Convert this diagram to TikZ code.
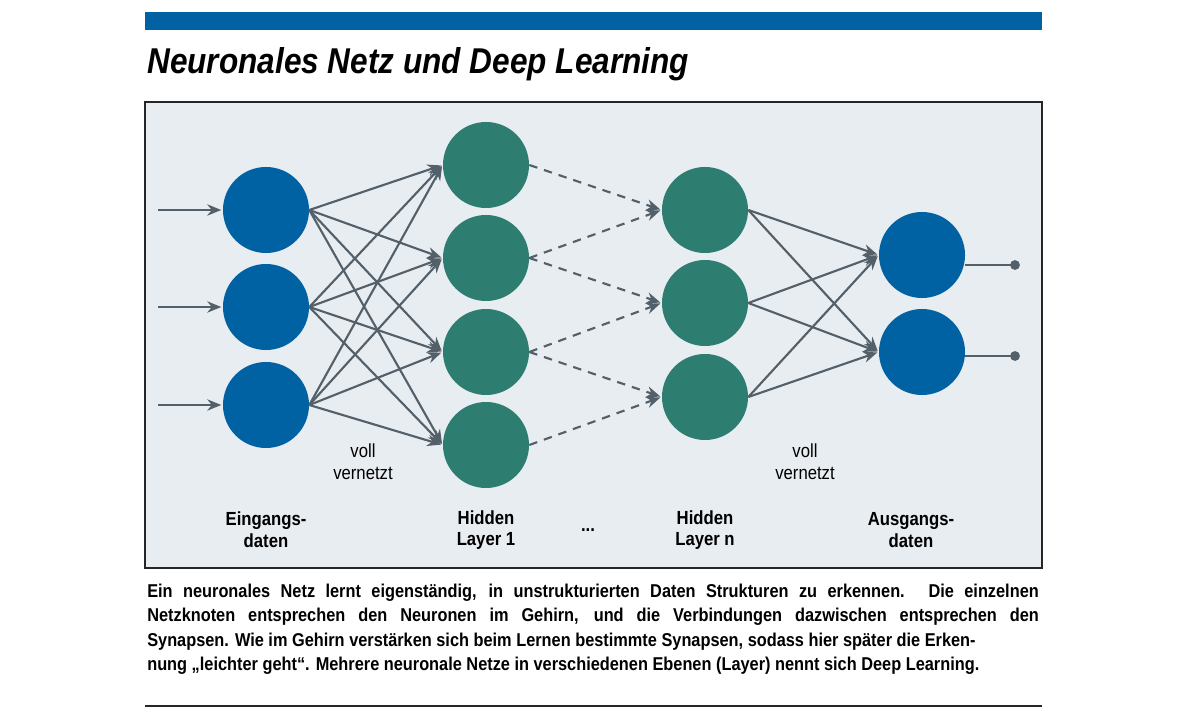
\documentclass[tikz,border=0pt]{standalone}
\usepackage{fontspec}
\setmainfont{Liberation Sans}[FakeStretch=0.88]
\usetikzlibrary{arrows.meta}
\definecolor{nblue}{HTML}{0062A3}
\definecolor{ngreen}{HTML}{2E7D71}
\definecolor{ngray}{HTML}{535F69}
\definecolor{nback}{HTML}{E8EDF1}
\newcommand{\bodyline}[1]{\makebox[634pt][s]{#1}}
\begin{document}
\begin{tikzpicture}[x=0.025cm,y=-0.025cm,
    neuron/.style={circle, minimum size=2.15cm, inner sep=0pt},
    inneuron/.style={neuron, fill=nblue},
    hidneuron/.style={neuron, fill=ngreen},
    link/.style={-{Stealth[length=10pt,width=8pt]}, ngray, line width=1.5pt, shorten >=1pt},
    dashlink/.style={link, dashed, dash pattern=on 6pt off 5pt},
    caption/.style={font=\bfseries\fontsize{13.5}{15.5}\selectfont, align=center, text=black},
    note/.style={font=\fontsize{13.5}{15.5}\selectfont, align=center, text=black}]
\useasboundingbox (0,0) rectangle (1200,720);
\fill[white] (0,0) rectangle (1200,720);
% heading
\fill[nblue] (145,12) rectangle (1042,30);
\node[anchor=base west, inner sep=0pt, font=\bfseries\itshape\fontsize{25.5}{28}\selectfont] (title) at (147,74) {Neuronales Netz und Deep Learning};
\draw[fill=nback, draw=black!85, line width=0.8pt] (145,102) rectangle (1042,568);
% neurons
\foreach \i/\y in {1/210,2/307,3/405} \node[inneuron] (in\i) at (266,\y) {};
\foreach \i/\y in {1/165,2/258,3/352,4/445} \node[hidneuron] (ha\i) at (486,\y) {};
\foreach \i/\y in {1/210,2/303,3/397} \node[hidneuron] (hn\i) at (705,\y) {};
\foreach \i/\y in {1/255,2/352} \node[inneuron] (out\i) at (922,\y) {};
% input and output
\foreach \i/\y in {1/210,2/307,3/405} {
  \coordinate (src\i) at (158,\y);
  \draw[link] (src\i) -- (in\i);
}
\foreach \i/\y in {1/265,2/356} {
  \coordinate (end\i) at (1015,\y);
  \draw[ngray, line width=1.5pt] (out\i.east |- end\i) -- (end\i);
  \fill[ngray] (end\i) circle (3.5pt);
}
% fully connected
\foreach \a in {1,2,3} \foreach \b in {1,2,3,4} \draw[link] (in\a.east) -- (ha\b.west);
\foreach \a in {1,2,3} \foreach \b in {1,2} \draw[link] (hn\a.east) -- (out\b.west);
\foreach \a/\b in {1/1,2/1,2/2,3/2,3/3,4/3} \draw[dashlink] (ha\a.east) -- (hn\b.west);
% labels
\node[note] (v1) at (363,462) {voll\\vernetzt};
\node[note] (v2) at (805,462) {voll\\vernetzt};
\node[caption] (l1) at (266,530) {Eingangs-\\daten};
\node[caption] (l2) at (486,530) {Hidden\\Layer 1};
\node[caption] (l3) at (588,530) {...};
\node[caption] (l4) at (705,530) {Hidden\\Layer n};
\node[caption] (l5) at (911,530) {Ausgangs-\\daten};
% body text
\node[anchor=north west, inner sep=0pt, align=left,
  font=\bfseries\fontsize{13.2}{17.2}\selectfont] (body) at (147,584)
  {\bodyline{Ein neuronales Netz lernt eigenständig, in unstrukturierten Daten Strukturen zu erkennen. Die einzelnen}\\
   \bodyline{Netzknoten entsprechen den Neuronen im Gehirn, und die Verbindungen dazwischen entsprechen den}\\
   Synapsen. Wie im Gehirn verstärken sich beim Lernen bestimmte Synapsen, sodass hier später die Erken-\\
   nung „leichter geht“. Mehrere neuronale Netze in verschiedenen Ebenen (Layer) nennt sich Deep Learning.};
\draw[black!85, line width=0.8pt] (145,706) -- (1042,706);
\end{tikzpicture}
\end{document}
